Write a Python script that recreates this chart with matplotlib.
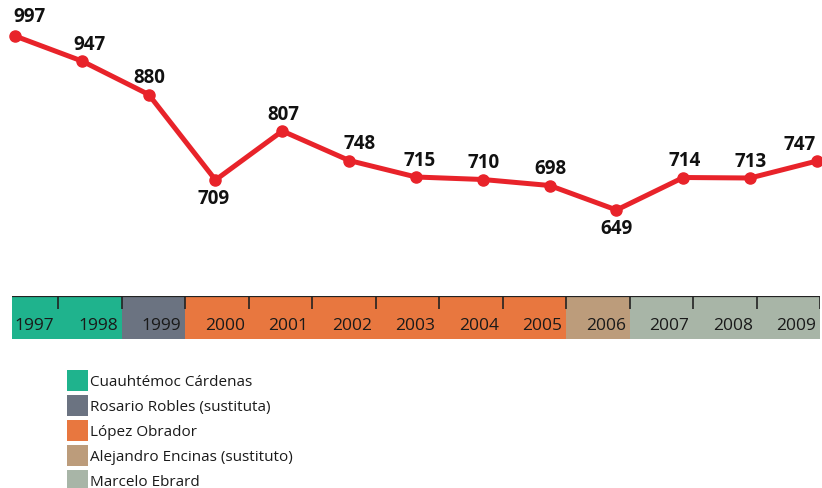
import matplotlib
matplotlib.use("Agg")
import matplotlib.pyplot as plt
from matplotlib.patches import Rectangle

plt.rcParams['font.family'] = ['Open Sans', 'DejaVu Sans']

# Data
years = ["1997", "1998", "1999", "2000", "2001", "2002", "2003",
         "2004", "2005", "2006", "2007", "2008", "2009"]
values = [997, 947, 880, 709, 807, 748, 715, 710, 698, 649, 714, 713, 747]
# label placement: True = above the point, False = below
label_above = [True, True, True, False, True, True, True,
               True, True, False, True, True, True]
# small horizontal nudges for the value labels (pixels)
label_nudge = [14, 8, 1, -2, 1, 10, 4, 1, 1, 0, 1, 0, -17]

# Heads of government and the years they held office
governors = ["Cuauhtémoc Cárdenas", "Rosario Robles (sustituta)", "López Obrador",
             "Alejandro Encinas (sustituto)", "Marcelo Ebrard"]
governor_colors = ["#1fb38d", "#6b7381", "#e8773f", "#bc9c7b", "#a8b5a7"]
year_governor = [0, 0, 1, 2, 2, 2, 2, 2, 2, 3, 4, 4, 4]

W, H = 822, 489
PX = 72 / 100  # points per pixel
fig = plt.figure(figsize=(W / 100, H / 100), dpi=100)
fig.patch.set_facecolor("white")

# ---- line chart ----
ax = fig.add_axes([0, 1 - 262 / H, 1, 262 / H])
ax.set_xlim(-0.2245, 12.075)
ax.set_ylim(547, 1071)
ax.axis("off")
xs = list(range(len(values)))
ax.plot(xs, values, color="#e8232a", lw=3.6, marker="o", ms=8,
        mec="#e8232a", mfc="#e8232a", solid_capstyle="round", zorder=3)
for i, (v, up, nx) in enumerate(zip(values, label_above, label_nudge)):
    dy = 20 if i == 0 else 17
    ax.annotate(str(v), (i, v), xytext=(nx * PX, (dy if up else -18) * PX),
                textcoords="offset points", ha="center", va="center",
                fontsize=13.5, fontweight="bold", color="#111111")

# ---- timeline bar ----
tl = fig.add_axes([12 / W, 1 - 340 / H, 808 / W, 43 / H])
first_cell = 46 / 63.5
tl.set_xlim(1 - first_cell, len(years))
tl.set_ylim(0, 1)
tl.axis("off")
for i, yr in enumerate(years):
    c = governor_colors[year_governor[i]]
    tl.add_patch(Rectangle((i, 0), 1, 1, facecolor=c, edgecolor="none"))
    tl.text(i + 1 - 0.06, 0.32, yr, ha="right", va="center",
            fontsize=12.5, color="#1a1a1a")
    tl.plot([i + 1, i + 1], [1, 0.7], color="#222222", lw=1.2,
            solid_capstyle="butt")
tl.plot([1 - first_cell, len(years)], [1, 1], color="#222222", lw=1.6,
        solid_capstyle="butt")

# ---- legend ----
lg = fig.add_axes([0, 0, 1, 1], zorder=-1)
lg.set_xlim(0, W)
lg.set_ylim(H, 0)
lg.axis("off")
row0, row_gap, sw = 381.5, 25, 21
for k, (name, c) in enumerate(zip(governors, governor_colors)):
    yc = row0 + k * row_gap
    lg.add_patch(Rectangle((67, yc - sw / 2), sw, sw, facecolor=c, edgecolor="none"))
    lg.text(90, yc + 1, name, ha="left", va="center", fontsize=11,
            color="#1a1a1a")

fig.savefig("out.png", dpi=100, facecolor="white")
